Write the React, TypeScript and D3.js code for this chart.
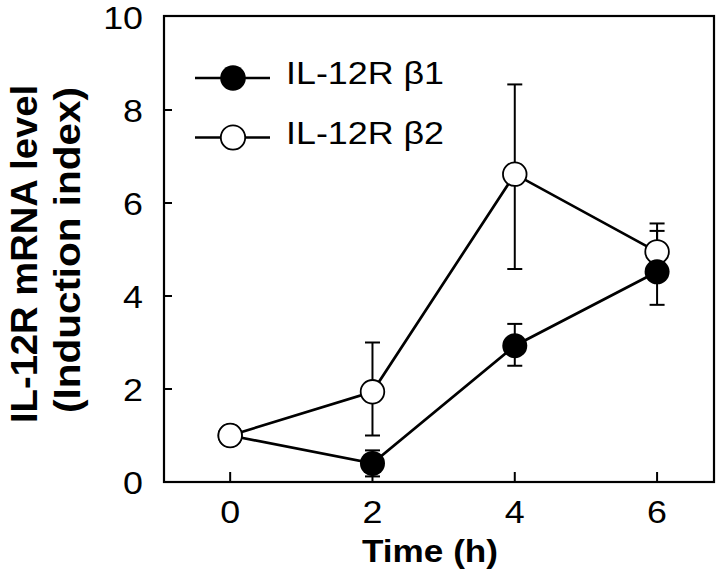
import React from "react";
import * as d3 from "d3";

const times = [0, 2, 4, 6];
const xTicks = [0, 2, 4, 6];
const yTicks = [0, 2, 4, 6, 8, 10];

const beta1 = [1.0, 0.4, 2.93, 4.52];
const beta1Low = [1.0, 0.12, 2.5, 3.81];
const beta1High = [1.0, 0.68, 3.4, 5.4];

const beta2 = [1.0, 1.94, 6.62, 4.95];
const beta2Low = [1.0, 1.0, 4.58, 4.34];
const beta2High = [1.0, 3.0, 8.55, 5.56];

const seriesNames = ["IL-12R \u03b21", "IL-12R \u03b22"];

const FONT = "'Liberation Sans', Arial, Helvetica, sans-serif";

export default function App() {
  const W = 720;
  const H = 576;
  const x = d3.scaleLinear().domain([-0.93, 6.8]).range([164, 714]);
  const y = d3.scaleLinear().domain([0, 10]).range([482, 17]);
  const [x0, x1] = x.range();
  const [yb, yt] = y.range();

  const series = [
    { name: seriesNames[0], vals: beta1, lo: beta1Low, hi: beta1High, filled: true },
    { name: seriesNames[1], vals: beta2, lo: beta2Low, hi: beta2High, filled: false },
  ];

  const line = d3
    .line<number>()
    .x((_, i) => x(times[i]))
    .y((d) => y(d));

  // marker draw order: higher values first, open drawn last on ties
  const markers: { t: number; v: number; filled: boolean }[] = [];
  series.forEach((s) =>
    s.vals.forEach((v, i) => markers.push({ t: times[i], v, filled: s.filled }))
  );
  markers.sort((a, b) => (b.v - a.v) || (a.filled === b.filled ? 0 : a.filled ? -1 : 1));

  const cap = 7.5;

  return (
    <svg width={W} height={H} style={{ position: "absolute", left: 0, top: 0, background: "#fff" }}>
      <rect x={0} y={0} width={W} height={H} fill="#fff" />
      {/* frame */}
      <rect x={x0} y={yt - 1} width={x1 - x0} height={yb - yt + 1} fill="none" stroke="#000" strokeWidth={2.2} />
      {/* x ticks */}
      {xTicks.map((t) => (
        <g key={"xt" + t}>
          <line x1={x(t)} x2={x(t)} y1={yb} y2={yb - 10} stroke="#000" strokeWidth={2} />
          <text
            transform={`translate(${x(t)},${yb + 41}) scale(1.12,1)`}
            textAnchor="middle"
            fontFamily={FONT}
            fontSize={32}
          >
            {t}
          </text>
        </g>
      ))}
      {/* y ticks */}
      {yTicks.map((t) => (
        <g key={"yt" + t}>
          {t > 0 && t < 10 && (
            <line x1={x0} x2={x0 + 8} y1={y(t)} y2={y(t)} stroke="#000" strokeWidth={2} />
          )}
          <text
            transform={`translate(143,${y(t) + 11.5}) scale(1.12,1)`}
            textAnchor="end"
            fontFamily={FONT}
            fontSize={32}
          >
            {t}
          </text>
        </g>
      ))}
      {/* axis titles */}
      <text
        x={430}
        y={562}
        textAnchor="middle"
        fontFamily={FONT}
        fontSize={32}
        fontWeight="bold"
        textLength={136}
        lengthAdjust="spacingAndGlyphs"
      >
        Time (h)
      </text>
      <text
        transform="translate(37,254) rotate(-90)"
        textAnchor="middle"
        fontFamily={FONT}
        fontSize={37}
        fontWeight="bold"
        textLength={338}
        lengthAdjust="spacingAndGlyphs"
      >
        IL-12R mRNA level
      </text>
      <text
        transform="translate(80,250) rotate(-90)"
        textAnchor="middle"
        fontFamily={FONT}
        fontSize={37}
        fontWeight="bold"
        textLength={326}
        lengthAdjust="spacingAndGlyphs"
      >
        (Induction index)
      </text>
      {/* lines */}
      {series.map((s) => (
        <path key={"l" + s.name} d={line(s.vals) || ""} fill="none" stroke="#000" strokeWidth={2.7} />
      ))}
      {/* error bars */}
      {series.map((s) =>
        s.vals.map((v, i) =>
          s.hi[i] - s.lo[i] > 0 ? (
            <g key={"e" + s.name + i} stroke="#000" strokeWidth={2}>
              <line x1={x(times[i])} x2={x(times[i])} y1={y(s.lo[i])} y2={y(s.hi[i])} />
              <line x1={x(times[i]) - cap} x2={x(times[i]) + cap} y1={y(s.lo[i])} y2={y(s.lo[i])} />
              <line x1={x(times[i]) - cap} x2={x(times[i]) + cap} y1={y(s.hi[i])} y2={y(s.hi[i])} />
            </g>
          ) : null
        )
      )}
      {/* markers */}
      {markers.map((m, i) => (
        <circle
          key={"m" + i}
          cx={x(m.t)}
          cy={y(m.v)}
          r={m.filled ? 12.5 : 11.8}
          fill={m.filled ? "#000" : "#fff"}
          stroke="#000"
          strokeWidth={m.filled ? 0 : 1.8}
        />
      ))}
      {/* legend */}
      {series.map((s, i) => {
        const ly = 78 + i * 59.5;
        return (
          <g key={"lg" + i}>
            <line x1={195} x2={270} y1={ly} y2={ly} stroke="#000" strokeWidth={2.5} />
            <circle
              cx={233}
              cy={ly}
              r={s.filled ? 12.8 : 12.2}
              fill={s.filled ? "#000" : "#fff"}
              stroke="#000"
              strokeWidth={s.filled ? 0 : 1.8}
            />
            <text
              x={286}
              y={ly + 6}
              fontFamily={FONT}
              fontSize={32}
              textLength={158}
              lengthAdjust="spacingAndGlyphs"
            >
              {s.name}
            </text>
          </g>
        );
      })}
    </svg>
  );
}
